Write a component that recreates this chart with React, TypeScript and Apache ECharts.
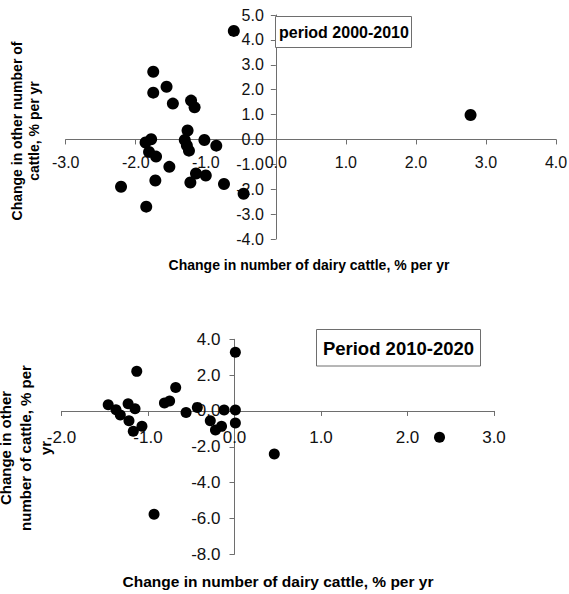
import React, { useEffect, useRef } from "react";
import * as echarts from "echarts";

// Period 2000-2010: [change in dairy cattle %/yr, change in other cattle %/yr]
const period1Points: [number, number][] = [
  [-0.6, 4.36],
  [-1.75, 2.72],
  [-1.75, 1.88],
  [-1.56, 2.12],
  [-1.47, 1.44],
  [-1.21, 1.56],
  [-1.16, 1.29],
  [-1.26, 0.36],
  [-1.86, -0.12],
  [-1.78, 0.01],
  [-1.3, -0.02],
  [-1.27, -0.24],
  [-1.24, -0.45],
  [-1.02, -0.02],
  [-0.85, -0.25],
  [-1.81, -0.5],
  [-1.71, -0.69],
  [-1.52, -1.1],
  [-1.72, -1.65],
  [-1.14, -1.37],
  [-1.0, -1.45],
  [-1.22, -1.73],
  [-0.74, -1.79],
  [-0.46, -2.18],
  [-2.21, -1.9],
  [-1.85, -2.7],
  [2.78, 0.98],
];

// Period 2010-2020
const period2Points: [number, number][] = [
  [0.01, 3.28],
  [-1.13, 2.21],
  [-0.68, 1.31],
  [-0.81, 0.45],
  [-0.75, 0.56],
  [-1.46, 0.35],
  [-1.37, 0.07],
  [-1.32, -0.22],
  [-1.23, 0.4],
  [-1.15, 0.12],
  [-1.22, -0.55],
  [-1.17, -1.13],
  [-1.07, -0.85],
  [-0.56, -0.08],
  [-0.43, 0.2],
  [-0.28, -0.54],
  [-0.22, -1.06],
  [-0.15, -0.86],
  [-0.12, 0.06],
  [0.01, 0.06],
  [0.01, -0.67],
  [0.46, -2.4],
  [-0.93, -5.77],
  [2.37, -1.47],
];

// Axis ranges [min, max, interval]
const x1Range = [-3, 4, 1];
const y1Range = [-4, 5, 1];
const x2Range = [-2, 3, 1];
const y2Range = [-8, 4, 2];

const title1 = "period 2000-2010";
const title2 = "Period 2010-2020";
const xTitle = "Change in number of dairy cattle, % per yr";
const yTitle1 = ["Change in other number of", "cattle, % per yr"];
const yTitle2 = ["Change in other", "number of cattle, % per", "yr"];

const FONT = "Liberation Sans, Arial, Helvetica, sans-serif";
const AXIS_COLOR = "#6e6e6e";

const G1 = { left: 65.7, top: 15, width: 490.3, height: 224 };
const G2 = { left: 61.5, top: 339.3, width: 432.5, height: 215 };

function axisCommon(fontSize: number, margin: number, range: number[], offset: number) {
  return {
    type: "value" as const,
    min: range[0],
    max: range[1],
    interval: range[2],
    offset,
    splitLine: { show: false },
    axisLine: { show: true, onZero: false, lineStyle: { color: AXIS_COLOR, width: 1 } },
    axisTick: { show: true, inside: false, length: 5, lineStyle: { color: AXIS_COLOR } },
    axisLabel: {
      fontFamily: FONT,
      fontSize,
      color: "#111",
      margin,
      hideOverlap: false,
      formatter: (v: number) => v.toFixed(1),
    },
  };
}

// offset that places an axis on the other axis' zero (negative = inward)
const zeroOffset = (range: number[], size: number) => -(size * (0 - range[0])) / (range[1] - range[0]);

export default function App() {
  const ref = useRef<HTMLDivElement>(null);
  useEffect(() => {
    document.body.style.margin = "0";
    if (!ref.current) return;
    const chart = echarts.init(ref.current, null, { renderer: "svg" });
    chart.setOption({
      animation: false,
      backgroundColor: "#fff",
      grid: [
        { ...G1, outerBoundsMode: "none", containLabel: false },
        { ...G2, outerBoundsMode: "none", containLabel: false },
      ],
      xAxis: [
        { ...axisCommon(16, 15, x1Range, zeroOffset(y1Range, G1.height)), gridIndex: 0, position: "bottom" },
        { ...axisCommon(17, 18, x2Range, zeroOffset(y2Range, G2.height)), gridIndex: 1, position: "bottom" },
      ],
      yAxis: [
        { ...axisCommon(16, 12, y1Range, zeroOffset(x1Range, G1.width)), gridIndex: 0, position: "left" },
        { ...axisCommon(17, 14, y2Range, zeroOffset(x2Range, G2.width)), gridIndex: 1, position: "left" },
      ],
      series: [
        {
          type: "scatter",
          xAxisIndex: 0,
          yAxisIndex: 0,
          data: period1Points,
          symbol: "circle",
          symbolSize: 12,
          itemStyle: { color: "#000", opacity: 1 },
          z: 5,
        },
        {
          type: "scatter",
          xAxisIndex: 1,
          yAxisIndex: 1,
          data: period2Points,
          symbol: "circle",
          symbolSize: 11,
          itemStyle: { color: "#000", opacity: 1 },
          z: 5,
        },
      ],
      graphic: [
        {
          type: "rect",
          shape: { x: 275.5, y: 16.5, width: 136, height: 31 },
          style: { fill: "#fff", stroke: AXIS_COLOR, lineWidth: 1 },
          z: 10,
        },
        {
          type: "text",
          x: 279,
          y: 32,
          style: { text: title1, font: `bold 16px ${FONT}`, fill: "#000", align: "left", verticalAlign: "middle" },
          z: 11,
        },
        {
          type: "rect",
          shape: { x: 316.5, y: 329.5, width: 164, height: 36.5 },
          style: { fill: "#fff", stroke: AXIS_COLOR, lineWidth: 1 },
          z: 10,
        },
        {
          type: "text",
          x: 398.5,
          y: 348,
          style: { text: title2, font: `bold 18.5px ${FONT}`, fill: "#000", align: "center", verticalAlign: "middle" },
          z: 11,
        },
        {
          type: "text",
          x: 309,
          y: 265,
          style: { text: xTitle, font: `bold 14px ${FONT}`, fill: "#000", align: "center", verticalAlign: "middle" },
        },
        {
          type: "text",
          x: 278,
          y: 581,
          style: { text: xTitle, font: `bold 15.5px ${FONT}`, fill: "#000", align: "center", verticalAlign: "middle" },
        },
        ...yTitle1.map((t, i) => ({
          type: "text",
          x: 17 + i * 16.5,
          y: 131,
          rotation: Math.PI / 2,
          style: { text: t, font: `bold 14px ${FONT}`, fill: "#000", align: "center", verticalAlign: "middle" },
        })),
        ...yTitle2.map((t, i) => ({
          type: "text",
          x: 5 + i * 20,
          y: 448,
          rotation: Math.PI / 2,
          style: { text: t, font: `bold 15px ${FONT}`, fill: "#000", align: "center", verticalAlign: "middle" },
        })),
      ],
    });
    return () => chart.dispose();
  }, []);
  return <div ref={ref} style={{ width: 569, height: 594 }} />;
}
